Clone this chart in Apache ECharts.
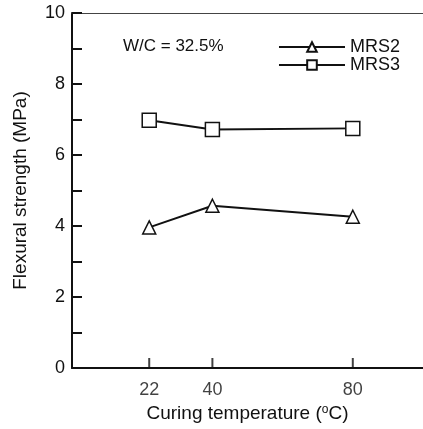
<!DOCTYPE html>
<html><head><meta charset="utf-8">
<script src="https://cdn.jsdelivr.net/npm/echarts@6/dist/echarts.min.js"></script>
<style>html,body{margin:0;padding:0;background:#fff}#c{width:423px;height:429px}</style>
</head><body><div id="c"></div>
<script>
var temps = [22, 40, 80];
var mrs2 = [3.96, 4.57, 4.26];
var mrs3 = [6.98, 6.72, 6.75];
var yTickLabels = [0, 2, 4, 6, 8, 10];

var chart = echarts.init(document.getElementById('c'));
var font = 'Liberation Sans, Arial, sans-serif';
function pairs(xs, ys){ return xs.map(function(x,i){return [x, ys[i]];}); }
chart.setOption({
  animation: false,
  grid: {left: 72, right: 0, top: 13, bottom: 61},
  title: {text: 'W/C = 32.5%', left: 118, top: 33, textStyle: {fontFamily: font, fontSize: 17, fontWeight: 'normal', color: '#111'}},
  legend: {
    orient: 'vertical', right: 18, top: 33, itemWidth: 66, itemHeight: 12, itemGap: 0,
    textStyle: {fontFamily: font, fontSize: 18, color: '#111'},
    data: ['MRS2', 'MRS3']
  },
  xAxis: [{
    type: 'value', min: 0, max: 100,
    name: '{a|Curing temperature (}{s|o}{a|C)}', nameLocation: 'middle', nameGap: 36,
    nameTextStyle: {rich: {a: {fontFamily: font, fontSize: 19, color: '#111'}, s: {fontFamily: font, fontSize: 12, color: '#111', verticalAlign: 'top', padding: [0,0,8,0]}}},
    axisLine: {lineStyle: {color: '#111', width: 2}},
    axisTick: {show: false},
    splitLine: {show: false},
    axisLabel: {show: false}
  }, {
    type: 'value', position: 'top', min: 0, max: 100,
    axisLine: {show: true, lineStyle: {color: '#444', width: 1}},
    axisTick: {show: false}, axisLabel: {show: false}, splitLine: {show: false}
  }],
  yAxis: {
    type: 'value', min: 0, max: 10, interval: 1,
    name: 'Flexural strength (MPa)', nameLocation: 'middle', nameGap: 42, nameRotate: 90,
    nameTextStyle: {fontFamily: font, fontSize: 19, color: '#111'},
    axisLine: {lineStyle: {color: '#111', width: 2}},
    axisTick: {inside: true, length: 10, lineStyle: {color: '#111', width: 2}},
    splitLine: {show: false},
    axisLabel: {fontFamily: font, fontSize: 18, color: '#111', margin: 7,
      formatter: function(v){ return yTickLabels.indexOf(v) >= 0 ? String(v) : ''; }}
  },
  series: [{
    name: 'MRS2', type: 'line', data: pairs(temps, mrs2),
    symbol: 'triangle', symbolSize: 13,
    lineStyle: {color: '#111', width: 2},
    itemStyle: {color: '#fff', borderColor: '#111', borderWidth: 1.5},
    z: 3
  }, {
    name: 'MRS3', type: 'line', data: pairs(temps, mrs3),
    symbol: 'rect', symbolSize: 14,
    lineStyle: {color: '#111', width: 2},
    itemStyle: {color: '#fff', borderColor: '#111', borderWidth: 1.5},
    z: 3
  }, {
    name: 'ticks', type: 'scatter', silent: true,
    data: temps.map(function(t){ return [t, 0]; }),
    symbol: 'rect', symbolSize: [2, 10], symbolOffset: [0, -5], itemStyle: {color: '#111'},
    label: {show: true, position: 'bottom', distance: 13, formatter: function(p){ return p.value[0]; }, fontFamily: font, fontSize: 18, color: '#111'},
    z: 2
  }]
});
</script></body></html>
